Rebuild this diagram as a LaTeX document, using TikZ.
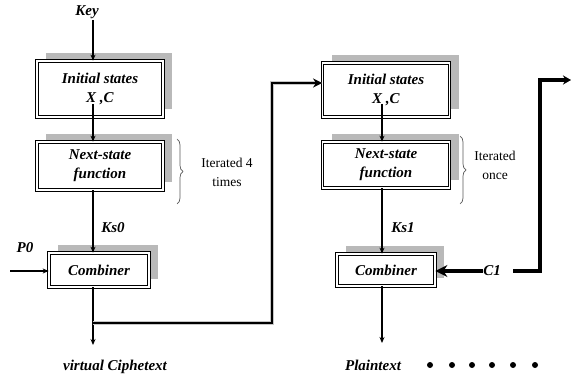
\documentclass[tikz,border=0pt]{standalone}
\usepackage{fontspec}
\setmainfont{Liberation Serif}
\usetikzlibrary{arrows.meta,shadows,decorations.pathreplacing}
\begin{document}
\begin{tikzpicture}[x=1pt,y=-1pt,
  lbl/.style={font=\fontsize{15}{17}\selectfont\bfseries\itshape, inner sep=0pt},
  plain/.style={font=\fontsize{13.5}{19}\selectfont, align=center, inner sep=0pt},
  box/.style={draw=black, double=white, double distance=1.8pt, line width=0.75pt, fill=white,
     font=\fontsize{15}{19}\selectfont\bfseries\itshape, align=center, inner sep=0pt,
     drop shadow={shadow xshift=9pt, shadow yshift=8pt, fill=gray!55, opacity=1}},
  thinarrow/.style={line width=1.3pt, -{Stealth[length=6pt,width=5pt]}},
  thickline/.style={line width=2.6pt, preaction={draw=gray!45, line width=4pt}},
  brc/.style={decorate, decoration={brace, amplitude=6pt}, draw=gray!70!black, line width=0.7pt}
]
\useasboundingbox (0,0) rectangle (573,379);

% left column
\node[lbl] (key) at (87,12) {Key};
\node[box, minimum width=126pt, minimum height=56pt] (b1) at (100,89) {Initial states\\X ,C};
\node[box, minimum width=126pt, minimum height=48pt] (b2) at (100,166) {Next-state\\function};
\node[box, minimum width=100pt, minimum height=34pt] (cb1) at (99,270) {Combiner};
\node[lbl] (ks0) at (113,228) {Ks0};
\node[lbl] (p0) at (25,248) {P0};
\node[lbl] (vc) at (115,367) {virtual Ciphetext};
\node[plain] (it4) at (227,172) {Iterated 4\\times};
\coordinate (keyend) at (93,20);
\coordinate (x1) at (93,104);
\coordinate (p0s) at (10,271);
\coordinate (out1) at (93,345);
\coordinate (fb1) at (93,323);
\coordinate (fbu) at (272,83);

\draw[thinarrow] (keyend) -- (keyend |- b1.north);
\draw[thinarrow] (x1) -- (x1 |- b2.north);
\draw[thinarrow] (x1 |- b2.south) -- (x1 |- cb1.north);
\draw[thinarrow] (p0s) -- (p0s -| cb1.west);
\draw[thinarrow] (x1 |- cb1.south) -- (out1);
\draw[brc] (177,139) -- (177,204);

% right column
\node[box, minimum width=127pt, minimum height=54pt] (b3) at (386,90) {Initial states\\X ,C};
\node[box, minimum width=127pt, minimum height=46pt] (b4) at (386,165) {Next-state\\function};
\node[box, minimum width=98pt, minimum height=32pt] (cb2) at (386,270) {Combiner};
\node[lbl] (ks1) at (403,228) {Ks1};
\node[lbl] (c1) at (492,271) {C1};
\node[lbl] (pt) at (373,365) {Plaintext};
\node[plain] (itonce) at (495,165) {Iterated\\once};
\coordinate (x3) at (382,104);
\coordinate (out2) at (382,343);
\coordinate (rs) at (513,271);
\coordinate (ru) at (540,80);
\coordinate (re) at (571,80);

\draw[thinarrow] (x3) -- (x3 |- b4.north);
\draw[thinarrow] (x3 |- b4.south) -- (x3 |- cb2.north);
\draw[thinarrow] (x3 |- cb2.south) -- (out2);
\draw[brc] (460,136) -- (460,204);

% thick connectors
\draw[thickline, -{Stealth[length=9pt,width=9pt]}] (fb1) -| (fbu) -- (fbu -| b3.west);
\draw[line width=3.5pt, -{Stealth[length=12pt,width=12pt]}] (c1.west) -- (c1.west -| cb2.east);
\draw[thickline, line width=3.5pt, -{Stealth[length=8pt,width=9pt]}] (rs) -| (ru) -- (re);

% dots
\foreach \i/\x in {1/430,2/452,3/472,4/492,5/513,6/535}
  \node[circle, fill=black, inner sep=0pt, minimum size=6pt] (d\i) at (\x,365) {};
\end{tikzpicture}
\end{document}
